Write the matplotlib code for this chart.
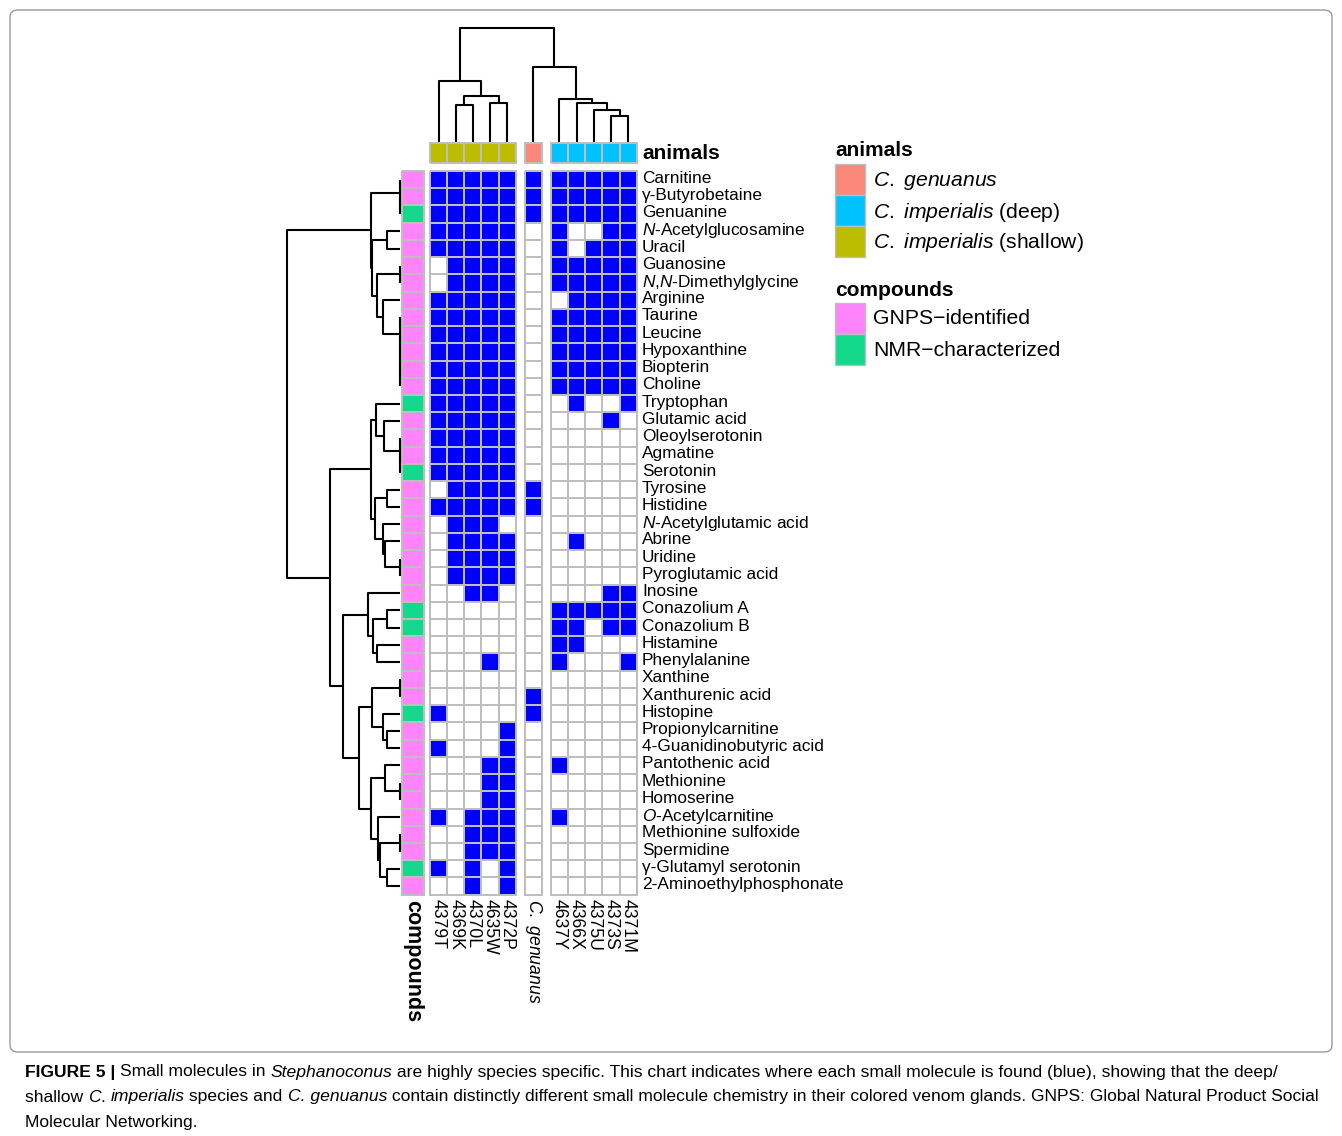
import numpy as np
import matplotlib
matplotlib.use("Agg")
import matplotlib.pyplot as plt
from matplotlib.colors import ListedColormap
from matplotlib.patches import Rectangle, FancyBboxPatch
from matplotlib.transforms import ScaledTranslation

plt.rcParams['font.family'] = ['Liberation Sans', 'DejaVu Sans']
plt.rcParams['mathtext.fontset'] = 'custom'
plt.rcParams['mathtext.rm'] = 'Liberation Sans'
plt.rcParams['mathtext.it'] = 'Liberation Sans:italic'
plt.rcParams['mathtext.bf'] = 'Liberation Sans:bold'

# ---- data ----
compounds = ["Carnitine", "γ-Butyrobetaine", "Genuanine", r"$\it{N}$-Acetylglucosamine",
             "Uracil", "Guanosine", r"$\it{N}$,$\it{N}$-Dimethylglycine", "Arginine",
             "Taurine", "Leucine", "Hypoxanthine", "Biopterin", "Choline", "Tryptophan",
             "Glutamic acid", "Oleoylserotonin", "Agmatine", "Serotonin", "Tyrosine",
             "Histidine", r"$\it{N}$-Acetylglutamic acid", "Abrine", "Uridine",
             "Pyroglutamic acid", "Inosine", "Conazolium A", "Conazolium B", "Histamine",
             "Phenylalanine", "Xanthine", "Xanthurenic acid", "Histopine",
             "Propionylcarnitine", "4-Guanidinobutyric acid", "Pantothenic acid",
             "Methionine", "Homoserine", r"$\it{O}$-Acetylcarnitine", "Methionine sulfoxide",
             "Spermidine", "γ-Glutamyl serotonin", "2-Aminoethylphosphonate"]

# N = NMR-characterized, G = GNPS-identified
compound_type = "GGNGGGGGGGGGGNGGGNGGGGGGGNNGGGGNGGGGGGGGNG"

shallow_cols = ["4379T", "4369K", "4370L", "4635W", "4372P"]
genuanus_cols = [r"$\it{C.\ genuanus}$"]
deep_cols = ["4637Y", "4366X", "4375U", "4373S", "4371M"]

shallow_hits = ["11111", "11111", "11111", "11111", "11111", "01111", "01111", "11111",
                "11111", "11111", "11111", "11111", "11111", "11111", "11111", "11111",
                "11111", "11111", "01111", "11111", "01110", "01111", "01111", "01111",
                "00110", "00000", "00000", "00000", "00010", "00000", "00000", "10000",
                "00001", "10001", "00011", "00011", "00011", "10111", "00111", "00111",
                "10101", "00101"]
genuanus_hits = "111000000000000000110000000000110000000000"
deep_hits = ["11111", "11111", "11111", "10011", "10111", "11111", "11111", "01111",
             "11111", "11111", "11111", "11111", "11111", "01001", "00010", "00000",
             "00000", "00000", "00000", "00000", "00000", "01000", "00000", "00000",
             "00011", "11111", "11011", "11000", "10001", "00000", "00000", "00000",
             "00000", "00000", "10000", "00000", "00000", "10000", "00000", "00000",
             "00000", "00000"]

# dendrograms: (height, left, right), leaves are row / column indices
row_tree = (113,
            (29, (0, 0, (0, 1, 2)),
                 (28, (13, 3, 4),
                      (23, (0, 5, 6),
                           (16.7, 7, (0, 8, (0, 9, (0, 10, (0, 11, 12)))))))),
            (70,
             (29, (24, 13, (16, 14, (0, 15, (0, 16, 17)))),
                  (25, (13, 18, 19), (17, 20, (15, 21, (0, 22, 23))))),
             (57, (32, 24, (27, (13, 25, 26), (23, 27, 28))),
                  (41, (28, (0, 29, 30), (17, 31, (13, 32, 33))),
                       (29, (15, 34, (0, 35, 36)),
                            (22, 37, (20, (0, 38, 39), (13, 40, 41))))))))
col_tree = (114, (61, 0, (46, (37, 1, 2), (39, 3, 4))),
            (75, 5, (43, 6, (39, 7, (32, 8, (26, 9, 10))))))

animal_colors = {"C. genuanus": "#F9877A", "deep": "#00C2FF", "shallow": "#BDBD00"}
type_colors = {"G": "#FF83FA", "N": "#14D98D"}

# ---- layout (pixels) ----
W, H = 1342, 1136
fig = plt.figure(figsize=(W / 100, H / 100), dpi=100)


def px_axes(x0, y0, x1, y1):
    return fig.add_axes([x0 / W, 1 - y1 / H, (x1 - x0) / W, (y1 - y0) / H])


n_rows = len(compounds)
top, row_h = 171, 17.23
bottom = top + n_rows * row_h
cell_w, gap, left = 17.15, 9, 430
grey = "#BEBEBE"
lift = ScaledTranslation(0, 3 / 100, fig.dpi_scale_trans)

slices = [(shallow_cols, np.array([[int(c) for c in r] for r in shallow_hits]), "shallow"),
          (genuanus_cols, np.array([[int(c)] for c in genuanus_hits]), "C. genuanus"),
          (deep_cols, np.array([[int(c) for c in r] for r in deep_hits]), "deep")]

hit_cmap = ListedColormap(["white", "#0000FF"])
leaf_x = []
x = left
for k, (cols, mat, animal) in enumerate(slices):
    w = len(cols) * cell_w
    ax = px_axes(x, top, x + w, bottom)
    m = ax.pcolormesh(mat, cmap=hit_cmap, vmin=0, vmax=1, edgecolors=grey, linewidth=1.1)
    m.set_clip_on(False)
    ax.set_xlim(0, len(cols))
    ax.set_ylim(n_rows, 0)
    ax.set_xticks(np.arange(len(cols)) + 0.5)
    ax.set_xticklabels(cols, rotation=270, fontsize=12.7, va="top", ha="center")
    ax.tick_params(length=0, pad=3)
    ax.set_yticks([])
    if k == 2:
        ax.yaxis.tick_right()
        ax.set_yticks(np.arange(n_rows) + 0.5)
        ax.set_yticklabels(compounds, fontsize=12.4)
        ax.tick_params(axis="y", length=0, pad=3.8)
        for lab in ax.get_yticklabels():
            lab.set_transform(lab.get_transform() + lift)
    for s in ax.spines.values():
        s.set_visible(False)
    # column annotation
    axa = px_axes(x, 143.3, x + w, 163.3)
    am = axa.pcolormesh(np.zeros((1, len(cols))), cmap=ListedColormap([animal_colors[animal]]),
                        edgecolors=grey, linewidth=1.1)
    am.set_clip_on(False)
    axa.axis("off")
    if k == 2:
        axa.annotate("animals", (1.0, 0.5), xycoords="axes fraction", xytext=(4, 0),
                     textcoords="offset points", fontsize=15, fontweight="bold",
                     va="center", ha="left")
    leaf_x += list(x + (np.arange(len(cols)) + 0.5) * cell_w)
    x += w + gap

# row annotation
axr = px_axes(401.7, top, 424.3, bottom)
codes = np.array([[0 if t == "G" else 1] for t in compound_type])
rm = axr.pcolormesh(codes, cmap=ListedColormap([type_colors["G"], type_colors["N"]]),
                    vmin=0, vmax=1, edgecolors=grey, linewidth=1.1)
rm.set_clip_on(False)
axr.set_ylim(n_rows, 0)
axr.set_xlim(0, 1)
axr.set_xticks([0.5])
axr.set_xticklabels(["compounds"], rotation=270, fontsize=15.5, fontweight="bold",
                    va="top", ha="center")
axr.tick_params(length=0, pad=4)
axr.set_yticks([])
for s in axr.spines.values():
    s.set_visible(False)


def draw_tree(ax, node, pos, horizontal):
    if not isinstance(node, tuple):
        return pos[node], 0
    h, l, r = node
    pl, hl = draw_tree(ax, l, pos, horizontal)
    pr, hr = draw_tree(ax, r, pos, horizontal)
    a, b = [pl, pl, pr, pr], [hl, h, h, hr]
    if horizontal:
        ax.plot(b, a, color="black", lw=1.5, clip_on=False, solid_capstyle="butt")
    else:
        ax.plot(a, b, color="black", lw=1.5, clip_on=False, solid_capstyle="butt")
    return (pl + pr) / 2, h


# row dendrogram
axd = px_axes(287, top, 400, bottom)
draw_tree(axd, row_tree, np.arange(n_rows) + 0.5, True)
axd.set_xlim(row_tree[0], 0)
axd.set_ylim(n_rows, 0)
axd.axis("off")

# column dendrogram
axc = px_axes(left, 28, x - gap, 142)
draw_tree(axc, col_tree, np.array(leaf_x), False)
axc.set_xlim(left, x - gap)
axc.set_ylim(0, col_tree[0])
axc.axis("off")

# legend
axl = px_axes(826, 130, 1110, 380)
axl.set_xlim(826, 1110)
axl.set_ylim(380, 130)
axl.axis("off")
axl.text(835, 151, "animals", fontsize=15, fontweight="bold", va="center")
leg_animals = [("C. genuanus", r"$\it{C.\ genuanus}$"),
               ("deep", r"$\it{C.\ imperialis}$ (deep)"),
               ("shallow", r"$\it{C.\ imperialis}$ (shallow)")]
for i, (key, lab) in enumerate(leg_animals):
    y0 = 164 + i * 31
    axl.add_patch(Rectangle((835, y0), 30, 31, facecolor=animal_colors[key], edgecolor=grey, lw=1))
    axl.text(873, y0 + 17, lab, fontsize=15.2, va="center")
axl.text(835, 290, "compounds", fontsize=15, fontweight="bold", va="center")
for i, (key, lab) in enumerate([("G", "GNPS−identified"), ("N", "NMR−characterized")]):
    y0 = 303 + i * 31
    axl.add_patch(Rectangle((835, y0), 30, 31, facecolor=type_colors[key], edgecolor=grey, lw=1))
    axl.text(873, y0 + 16, lab, fontsize=15.2, va="center")

# frame
fig.patches.append(FancyBboxPatch((10 / W, 1 - 1052 / H), 1322 / W, 1042 / H,
                                  boxstyle="round,pad=0,rounding_size=0.006",
                                  transform=fig.transFigure, facecolor="none",
                                  edgecolor="#9A9A9A", lw=1))

# caption
renderer = fig.canvas.get_renderer()
caption = [
    [("FIGURE 5 | ", "bold"), ("Small molecules in ", ""), ("Stephanoconus", "it"),
     (" are highly species specific. This chart indicates where each small molecule is found (blue), showing that the deep/", "")],
    [("shallow ", ""), ("C", "it"), (". ", ""), ("imperialis", "it"), (" species and ", ""),
     ("C. genuanus", "it"),
     (" contain distinctly different small molecule chemistry in their colored venom glands. GNPS: Global Natural Product Social", "")],
    [("Molecular Networking.", "")],
]
for li, parts in enumerate(caption):
    cx = 25
    cy = 1072 + li * 25
    for txt, st in parts:
        t = fig.text(cx / W, 1 - cy / H, txt, fontsize=12.6, va="center", ha="left",
                     fontweight="bold" if st == "bold" else "normal",
                     fontstyle="italic" if st == "it" else "normal")
        cx += t.get_window_extent(renderer=renderer).width

fig.savefig("out.png", dpi=100)
